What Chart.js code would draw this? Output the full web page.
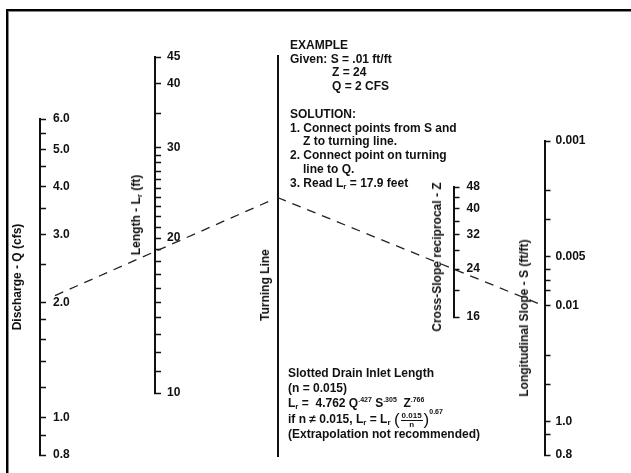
<!DOCTYPE html>
<html>
<head>
<meta charset="utf-8">
<script src="https://cdn.jsdelivr.net/npm/chart.js@4/dist/chart.umd.min.js"></script>
<style>
html,body{margin:0;padding:0;background:#fff;overflow:hidden;}
#wrap{position:relative;width:631px;height:473px;overflow:hidden;font-family:"Liberation Sans",Arial,sans-serif;font-weight:bold;color:#111;}
#c{position:absolute;left:0;top:0;}
.fline{position:absolute;background:#000;}
.fshade{position:absolute;background:#888;}
.vt{position:absolute;white-space:nowrap;font-size:12px;line-height:14px;transform:translate(-50%,-50%) rotate(-90deg);}
.note{position:absolute;font-size:12px;white-space:nowrap;}
.note div{height:13.8px;line-height:13.8px;}
sub{font-size:8px;vertical-align:-2px;line-height:0;}
sup{font-size:7px;vertical-align:5px;line-height:0;}
.frac{display:inline-block;vertical-align:middle;text-align:center;font-size:8px;line-height:8px;margin:0 1px;}
.frac span{display:block;}
.frac .num{border-bottom:1px solid #111;padding:0 1px;}
.big{font-size:17px;font-weight:normal;vertical-align:-2px;}
</style>
</head>
<body>
<div id="wrap">
<canvas id="c" width="631" height="473"></canvas>
<div class="fline" style="left:6px;top:9px;width:625px;height:2px"></div>
<div class="fline" style="left:6px;top:9px;width:2px;height:464px"></div>
<div class="fshade" style="left:8px;top:11px;width:623px;height:1px"></div>
<div class="fshade" style="left:8px;top:11px;width:1px;height:462px"></div>

<div class="vt" style="left:17px;top:277px">Discharge - Q (cfs)</div>
<div class="vt" style="left:136px;top:215px">Length - L<sub>r</sub> (ft)</div>
<div class="vt" style="left:265px;top:285px">Turning Line</div>
<div class="vt" style="left:437px;top:257px">Cross-Slope reciprocal - Z</div>
<div class="vt" style="left:524px;top:318px">Longitudinal Slope - S (ft/ft)</div>

<div class="note" style="left:290px;top:38.8px">
<div>EXAMPLE</div>
<div>Given: S = .01 ft/ft</div>
<div style="padding-left:42px">Z = 24</div>
<div style="padding-left:42px">Q = 2 CFS</div>
<div></div>
<div>SOLUTION:</div>
<div>1. Connect points from S and</div>
<div style="padding-left:13px">Z to turning line.</div>
<div>2. Connect point on turning</div>
<div style="padding-left:13px">line to Q.</div>
<div>3. Read L<sub>r</sub> = 17.9 feet</div>
</div>

<div class="note" style="left:288px;top:366px">
<div style="height:14.5px;line-height:14.5px">Slotted Drain Inlet Length</div>
<div style="height:14.7px;line-height:14.7px">(n = 0.015)</div>
<div style="height:16px;line-height:16px">L<sub>r</sub> = &nbsp;4.762 Q<sup>.427</sup> S<sup>.305</sup> &nbsp;Z<sup>.766</sup></div>
<div style="height:17px;line-height:17px">if n &ne; 0.015, L<sub>r</sub> = L<sub>r</sub> <span class="big">(</span><span class="frac"><span class="num">0.015</span><span>n</span></span><span class="big">)</span><sup style="vertical-align:9px">0.67</sup></div>
<div>(Extrapolation not recommended)</div>
</div>
</div>

<script>
// ---- Nomograph scale values ----
const qMajor = [0.8, 1, 2, 3, 4, 5, 6];
const qMajorText = ['0.8', '1.0', '2.0', '3.0', '4.0', '5.0', '6.0'];
const qMinor = [0.9, 1.2, 1.4, 1.6, 1.8, 2.5, 3.5, 4.5, 5.5];

const lMajor = [10, 20, 30, 40, 45];
const lMajorText = ['10', '20', '30', '40', '45'];
const lMinor = [11, 12, 13, 14, 15, 16, 17, 18, 19, 21, 22, 23, 24, 25, 26, 27, 28, 29, 35];

const zMajor = [16, 24, 32, 40, 48];
const zMajorText = ['16', '24', '32', '40', '48'];
const zMinor = [20, 28, 36, 44];

const sMajor = [0.001, 0.005, 0.01, 0.05, 0.08];
const sMajorText = ['0.001', '0.005', '0.01', '1.0', '0.8'];
const sMinor = [0.002, 0.003, 0.006, 0.007, 0.008, 0.02, 0.03, 0.06];

// ---- Worked example ----
const exampleS = 0.01;
const exampleZ = 24;
const exampleQ = 2;

// ---- Layout (where each vertical scale sits on the page) ----
const pageWidth = 631;
const axisLayout = {
  q: {x: 40,    top: 119, bottom: 455, pad: 13},
  l: {x: 155,   top: 57,  bottom: 393, pad: 12},
  t: {x: 277.5, top: 56,  bottom: 456, pad: 0},
  z: {x: 453.5, top: 187, bottom: 317, pad: 13},
  s: {x: 544.5, top: 141, bottom: 455, pad: 11}
};
const connectorGap = {qStart: 15, tEnd: 9};

const FONT = {family: '"Liberation Sans", Arial, sans-serif', size: 12, weight: 'bold'};
const INK = '#111';

function nomoAxis(id, min, max, major, majorText, minor, reverse) {
  const all = major.concat(minor).sort((a, b) => b - a);
  return {
    type: 'logarithmic', position: 'left', min: min, max: max, reverse: reverse,
    afterFit(s) { s.width = 0; },
    afterBuildTicks(s) { s.ticks = all.map(v => ({value: v})); },
    ticks: {
      mirror: true, padding: axisLayout[id].pad, autoSkip: false, color: INK, font: FONT,
      callback(value) {
        const k = major.findIndex(m => Math.abs(m / value - 1) < 1e-6);
        return k >= 0 ? majorText[k] : '';
      }
    },
    grid: {display: true, drawOnChartArea: false, drawTicks: true, tickLength: -6, tickWidth: 1.5, tickColor: INK},
    border: {display: true, color: INK, width: 2}
  };
}

const placeAxes = {
  id: 'placeAxes',
  afterLayout(chart) {
    const xs = chart.scales.x;
    Object.keys(axisLayout).forEach(id => {
      const s = chart.scales[id], L = axisLayout[id];
      const px = xs.getPixelForValue(L.x);
      s.left = px; s.right = px; s.width = 0;
      s.top = L.top; s.bottom = L.bottom; s.height = L.bottom - L.top;
      s.configure();
    });
  }
};

const dashStyle = {showLine: true, borderColor: '#222', borderWidth: 1.3, borderDash: [9, 7], pointRadius: 0, fill: false, clip: false};

const chart = new Chart(document.getElementById('c'), {
  type: 'scatter',
  data: {
    datasets: [
      Object.assign({label: 'Q to turning line', yAxisID: 'q', data: []}, dashStyle),
      Object.assign({label: 'S and Z to turning line', yAxisID: 'z', data: []}, dashStyle)
    ]
  },
  options: {
    responsive: false, animation: false, events: [],
    layout: {padding: 0, autoPadding: false},
    plugins: {legend: {display: false}, tooltip: {enabled: false}, title: {display: false}},
    scales: {
      x: {type: 'linear', min: 0, max: pageWidth, display: false},
      q: nomoAxis('q', 0.8, 6, qMajor, qMajorText, qMinor, false),
      l: nomoAxis('l', 10, 45, lMajor, lMajorText, lMinor, false),
      t: {type: 'linear', position: 'left', min: 0, max: 1, afterFit(s) { s.width = 0; },
          ticks: {display: false}, grid: {display: true, drawOnChartArea: false, drawTicks: false},
          border: {display: true, color: INK, width: 2}},
      z: nomoAxis('z', 16, 48, zMajor, zMajorText, zMinor, false),
      s: nomoAxis('s', 0.001, 0.08, sMajor, sMajorText, sMinor, true)
    }
  },
  plugins: [placeAxes]
});

// Connect the example points through the scales: S and Z define a point on the
// turning line, which is then joined to Q (crossing the L scale at the answer).
(function drawExample() {
  const sc = chart.scales;
  const X = id => sc.x.getPixelForValue(axisLayout[id].x);
  const xQ = X('q'), xT = X('t'), xZ = X('z'), xS = X('s');
  const yS = sc.s.getPixelForValue(exampleS);
  const yZ = sc.z.getPixelForValue(exampleZ);
  const yQ = sc.q.getPixelForValue(exampleQ);
  const yT = yZ + (yS - yZ) / (xS - xZ) * (xT - xZ);
  const x0 = xQ + connectorGap.qStart, x1 = xT - connectorGap.tEnd;
  const at = x => yQ + (yT - yQ) * (x - xQ) / (xT - xQ);
  chart.data.datasets[0].data = [
    {x: sc.x.getValueForPixel(x0), y: sc.q.getValueForPixel(at(x0))},
    {x: sc.x.getValueForPixel(x1), y: sc.q.getValueForPixel(at(x1))}
  ];
  chart.data.datasets[1].data = [
    {x: axisLayout.t.x, y: sc.z.getValueForPixel(yT)},
    {x: axisLayout.z.x, y: exampleZ},
    {x: axisLayout.s.x, y: sc.z.getValueForPixel(yS)}
  ];
  chart.update('none');
})();
</script>
</body>
</html>
